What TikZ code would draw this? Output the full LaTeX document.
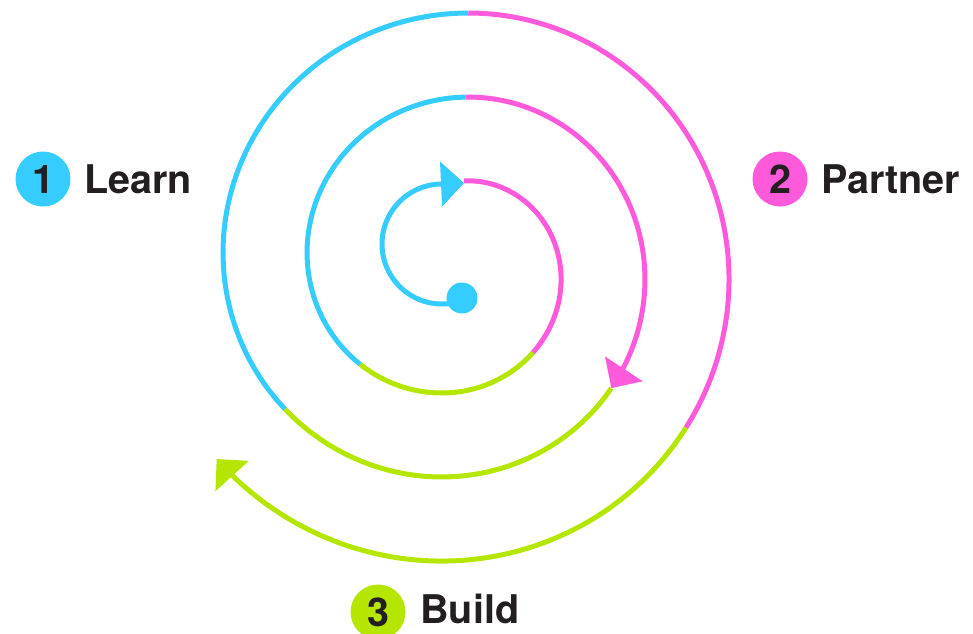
\documentclass[tikz,border=0pt]{standalone}
\usepackage{fontspec}
\setmainfont{TeX Gyre Heros}
\usetikzlibrary{arrows.meta}
\definecolor{learnblue}{HTML}{35CDFF}
\definecolor{partnerpink}{HTML}{FF5ADC}
\definecolor{buildgreen}{HTML}{B4E600}
\definecolor{inkdark}{HTML}{231F20}

\begin{document}
\begin{tikzpicture}[
    x=0.02cm, y=-0.02cm,
    >={Triangle[length=4.6mm,width=8.8mm]},
    turn/.style={line width=1mm},
    badge/.style={circle,minimum size=1.1cm,inner sep=0pt,text=inkdark,
      font=\fontsize{22.5}{26}\selectfont\bfseries},
    caption/.style={anchor=base west,inner sep=0pt,text=inkdark,
      font=\fontsize{22.5}{26}\selectfont\bfseries},
    startdot/.style={circle,fill=learnblue,minimum size=6.2mm,inner sep=0pt}
  ]
    \useasboundingbox (0,0) rectangle (973,633);

    % the hook out of the start dot, up to the first arrow
    \draw[turn,learnblue,->] plot[domain=80:270,samples=40,smooth,variable=\t]
        ({442+60*cos(\t)},{244+60*sin(\t)}) -- (464,183);

    % one spiral, r = 21 + 0.234*phi around (455,266); phi runs clockwise
    % on the page, and the colour changes three times per turn
    \foreach \a/\b/\col/\tip in {276/408/partnerpink/-,
        408/494/buildgreen/-, 494/633.5/learnblue/-,
        633.5/758/partnerpink/->, 758/860/buildgreen/-,
        860/993/learnblue/-, 993/1115/partnerpink/-,
        1115/1221/buildgreen/->}
      \draw[turn,\col,\tip] plot[domain=\a:\b,samples=45,smooth,variable=\t]
        ({455+(21+0.234*\t)*cos(\t)},{266+(21+0.234*\t)*sin(\t)});
    \node[startdot] (start) at (462,298) {};

    \node[badge,fill=learnblue] (one) at (43,179) {1};
    \node[caption] (learn) at (84,193) {Learn};
    \node[badge,fill=partnerpink] (two) at (780,179) {2};
    \node[caption] (partner) at (821,193) {Partner};
    \node[badge,fill=buildgreen] (three) at (378,612) {3};
    \node[caption] (build) at (420,623) {Build};
\end{tikzpicture}
\end{document}
